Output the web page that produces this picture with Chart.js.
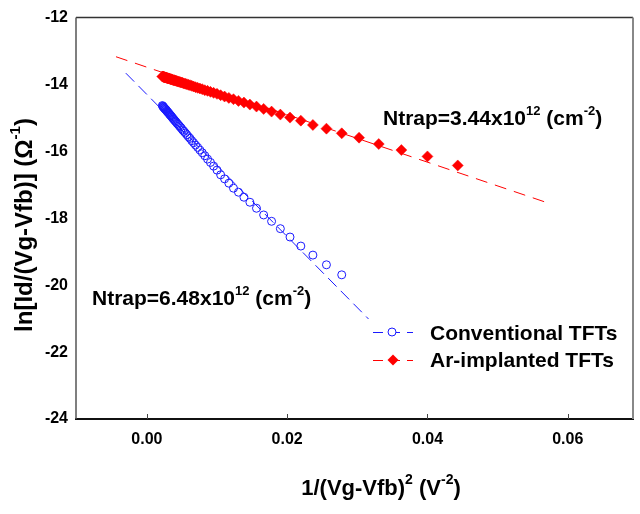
<!DOCTYPE html>
<html>
<head>
<meta charset="utf-8">
<script src="https://cdn.jsdelivr.net/npm/chart.js@4.4.1/dist/chart.umd.min.js"></script>
<style>
  html, body { margin: 0; padding: 0; background: #ffffff; }
  #wrap { width: 640px; height: 514px; position: relative; }
</style>
</head>
<body>
<div id="wrap"><canvas id="c" width="640" height="514"></canvas></div>
<script>
// ---- Data ----
const convX = [0.00221,0.00227,0.00232,0.00238,0.00244,0.00250,0.00256,0.00263,0.00270,0.00277,
  0.00284,0.00292,0.00300,0.00309,0.00317,0.00327,0.00336,0.00346,0.00356,0.00367,
  0.00379,0.00391,0.00403,0.00416,0.00430,0.00444,0.00460,0.00476,0.00492,0.00510,
  0.00529,0.00549,0.00570,0.00592,0.00615,0.00640,0.00666,0.00694,0.00724,0.00756,
  0.00790,0.00826,0.00865,0.00907,0.00952,0.01000,0.01052,0.01108,0.01169,0.01235,
  0.01306,0.01384,0.01469,0.01563,0.01665,0.01778,0.01903,0.02041,0.02195,0.02367,
  0.02560,0.02778];
const convY = [-14.63,-14.65,-14.66,-14.68,-14.69,-14.71,-14.72,-14.74,-14.75,-14.77,
  -14.79,-14.81,-14.83,-14.85,-14.87,-14.90,-14.92,-14.94,-14.97,-15.00,
  -15.03,-15.06,-15.09,-15.12,-15.16,-15.19,-15.23,-15.27,-15.31,-15.36,
  -15.40,-15.45,-15.50,-15.56,-15.61,-15.68,-15.74,-15.81,-15.88,-15.96,
  -16.04,-16.13,-16.23,-16.33,-16.44,-16.56,-16.70,-16.82,-16.95,-17.10,
  -17.22,-17.37,-17.52,-17.70,-17.90,-18.09,-18.31,-18.56,-18.83,-19.10,
  -19.39,-19.69];
const arX = [0.00221,0.00227,0.00232,0.00238,0.00244,0.00250,0.00256,0.00263,0.00270,0.00277,
  0.00284,0.00292,0.00300,0.00309,0.00317,0.00327,0.00336,0.00346,0.00356,0.00367,
  0.00379,0.00391,0.00403,0.00416,0.00430,0.00444,0.00460,0.00476,0.00492,0.00510,
  0.00529,0.00549,0.00570,0.00592,0.00615,0.00640,0.00666,0.00694,0.00724,0.00756,
  0.00790,0.00826,0.00865,0.00907,0.00952,0.01000,0.01052,0.01108,0.01169,0.01235,
  0.01306,0.01384,0.01469,0.01563,0.01665,0.01778,0.01903,0.02041,0.02195,0.02367,
  0.02560,0.02778,0.03025,0.03306,0.03628,0.04000,0.04432];
const arY = [-13.76,-13.76,-13.77,-13.77,-13.78,-13.78,-13.78,-13.79,-13.79,-13.80,
  -13.80,-13.81,-13.81,-13.82,-13.82,-13.83,-13.84,-13.84,-13.85,-13.86,
  -13.87,-13.87,-13.88,-13.89,-13.90,-13.91,-13.92,-13.93,-13.94,-13.95,
  -13.97,-13.98,-13.99,-14.01,-14.02,-14.04,-14.06,-14.08,-14.10,-14.12,
  -14.14,-14.17,-14.19,-14.22,-14.25,-14.28,-14.32,-14.36,-14.40,-14.44,
  -14.49,-14.54,-14.60,-14.66,-14.73,-14.81,-14.90,-14.99,-15.08,-15.21,
  -15.32,-15.46,-15.59,-15.78,-15.96,-16.15,-16.42];
// fitted lines (end points)
const convFitX = [-0.0030, 0.0316];
const convFitY = [-13.66, -21.01];
const arFitX = [-0.0044, 0.0573];
const arFitY = [-13.17, -17.55];
// axes
const xTickValues = [0, 0.02, 0.04, 0.06];
const yTickValues = [-24, -22, -20, -18, -16, -14, -12];
const seriesNames = ['Conventional TFTs', 'Ar-implanted TFTs'];

const BLUE = '#1a1aff';
const RED = '#ff0000';
const FONT = '"Liberation Sans", Arial, sans-serif';

function pts(xs, ys) { return xs.map((x, i) => ({ x: x, y: ys[i] })); }

// draw text with superscripts: parts = [[text, isSup], ...]
function richWidth(ctx, parts, size) {
  let w = 0;
  parts.forEach(p => {
    ctx.font = 'bold ' + (p[1] ? Math.round(size * 0.62) : size) + 'px ' + FONT;
    w += ctx.measureText(p[0]).width;
  });
  return w;
}
function drawRich(ctx, x, y, parts, size) {
  let cx = x;
  ctx.textBaseline = 'alphabetic';
  ctx.textAlign = 'left';
  parts.forEach(p => {
    const s = p[1] ? Math.round(size * 0.62) : size;
    ctx.font = 'bold ' + s + 'px ' + FONT;
    ctx.fillText(p[0], cx, p[1] ? y - size * 0.48 : y);
    cx += ctx.measureText(p[0]).width;
  });
}

const decor = {
  id: 'decor',
  afterDraw(chart) {
    const ctx = chart.ctx;
    const a = chart.chartArea;
    const xs = chart.scales.x;
    ctx.save();
    // frame
    ctx.lineCap = 'butt';
    ctx.strokeStyle = '#333'; ctx.lineWidth = 1.5;
    ctx.beginPath(); ctx.moveTo(a.left, a.top); ctx.lineTo(a.right, a.top); ctx.stroke();
    ctx.strokeStyle = '#111'; ctx.lineWidth = 2;
    ctx.beginPath(); ctx.moveTo(a.left - 1, a.bottom); ctx.lineTo(a.right + 1, a.bottom); ctx.stroke();
    ctx.strokeStyle = '#555'; ctx.lineWidth = 1.5;
    ctx.beginPath(); ctx.moveTo(a.left, a.top); ctx.lineTo(a.left, a.bottom); ctx.stroke();
    ctx.strokeStyle = '#888'; ctx.lineWidth = 2;
    ctx.beginPath(); ctx.moveTo(a.right, a.top); ctx.lineTo(a.right, a.bottom); ctx.stroke();
    // inward x ticks
    ctx.strokeStyle = '#444'; ctx.lineWidth = 1;
    xTickValues.forEach(v => {
      const px = Math.round(xs.getPixelForValue(v)) + 0.5;
      ctx.beginPath(); ctx.moveTo(px, a.bottom); ctx.lineTo(px, a.bottom - 5); ctx.stroke();
    });

    ctx.fillStyle = '#000';
    // x axis title
    const xt = [['1/(Vg-Vfb)', false], ['2', true], [' (V', false], ['-2', true], [')', false]];
    const xw = richWidth(ctx, xt, 22);
    drawRich(ctx, 381 - xw / 2, 495, xt, 22);
    // y axis title (rotated)
    const yt = [['ln[Id/(Vg-Vfb)] (\u03A9', false], ['-1', true], [')', false]];
    const yw = richWidth(ctx, yt, 24);
    ctx.save();
    ctx.translate(32, 225);
    ctx.rotate(-Math.PI / 2);
    drawRich(ctx, -yw / 2, 0, yt, 24);
    ctx.restore();
    // annotations
    drawRich(ctx, 383, 125, [['Ntrap=3.44x10', false], ['12', true], [' (cm', false], ['-2', true], [')', false]], 21);
    drawRich(ctx, 92, 305, [['Ntrap=6.48x10', false], ['12', true], [' (cm', false], ['-2', true], [')', false]], 21);

    // legend
    const legY = [332, 360];
    const cols = [BLUE, RED];
    ctx.lineWidth = 1;
    for (let i = 0; i < 2; i++) {
      ctx.strokeStyle = cols[i];
      ctx.setLineDash([10, 7]);
      ctx.beginPath(); ctx.moveTo(373, legY[i] + 0.5); ctx.lineTo(413, legY[i] + 0.5); ctx.stroke();
      ctx.setLineDash([]);
    }
    ctx.strokeStyle = BLUE; ctx.lineWidth = 1;
    ctx.fillStyle = '#fff';
    ctx.beginPath(); ctx.arc(392, legY[0], 4, 0, Math.PI * 2); ctx.fill(); ctx.stroke();
    ctx.fillStyle = RED;
    ctx.beginPath();
    ctx.moveTo(393, legY[1] - 5.5); ctx.lineTo(398.5, legY[1]); ctx.lineTo(393, legY[1] + 5.5); ctx.lineTo(387.5, legY[1]);
    ctx.closePath(); ctx.fill();
    ctx.fillStyle = '#000';
    ctx.font = 'bold 21px ' + FONT;
    ctx.textAlign = 'left'; ctx.textBaseline = 'alphabetic';
    ctx.fillText(seriesNames[0], 430, 340);
    ctx.fillText(seriesNames[1], 430, 367);
    ctx.restore();
  }
};

new Chart(document.getElementById('c'), {
  type: 'scatter',
  data: {
    datasets: [
      { label: seriesNames[0] + ' fit', data: pts(convFitX, convFitY), showLine: true,
        borderColor: BLUE, borderWidth: 1, borderDash: [12, 6], pointRadius: 0, order: 2 },
      { label: seriesNames[1] + ' fit', data: pts(arFitX, arFitY), showLine: true,
        borderColor: RED, borderWidth: 1, borderDash: [12, 8], pointRadius: 0, order: 2 },
      { label: seriesNames[0], data: pts(convX, convY), showLine: false,
        pointStyle: 'circle', pointRadius: 4, pointBorderWidth: 1,
        pointBorderColor: BLUE, pointBackgroundColor: 'rgba(0,0,0,0)', order: 1 },
      { label: seriesNames[1], data: pts(arX, arY), showLine: false,
        pointStyle: 'rectRot', pointRadius: 5.5, pointBorderWidth: 0.5,
        pointBorderColor: RED, pointBackgroundColor: RED, order: 0 }
    ]
  },
  options: {
    responsive: false,
    animation: false,
    devicePixelRatio: 1,
    layout: { padding: { top: 10, right: 7, left: 0, bottom: 0 } },
    plugins: { legend: { display: false }, tooltip: { enabled: false }, title: { display: false } },
    scales: {
      x: {
        type: 'linear', min: -0.0101, max: 0.0693,
        grid: { display: false, drawTicks: false },
        border: { display: false },
        afterBuildTicks: s => { s.ticks = xTickValues.map(v => ({ value: v })); },
        afterFit: s => { s.height = 95; },
        ticks: { padding: 11, color: '#000', maxRotation: 0,
          font: { family: FONT, size: 16, weight: 'bold' },
          callback: v => Number(v).toFixed(2) }
      },
      y: {
        type: 'linear', min: -24, max: -12,
        grid: { display: false, drawTicks: false },
        border: { display: false },
        afterBuildTicks: s => { s.ticks = yTickValues.map(v => ({ value: v })); },
        afterFit: s => { s.width = 76; },
        ticks: { padding: 8, color: '#000',
          font: { family: FONT, size: 16, weight: 'bold' },
          callback: v => String(v) }
      }
    }
  },
  plugins: [decor]
});
</script>
</body>
</html>
